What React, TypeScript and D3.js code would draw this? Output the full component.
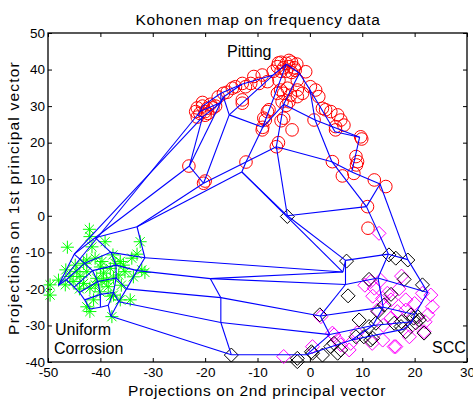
import { useEffect, useRef } from 'react';
import * as d3 from 'd3';

const W = 473;
const H = 403;

const xTicks = [-50, -40, -30, -20, -10, 0, 10, 20, 30];
const yTicks = [-40, -30, -20, -10, 0, 10, 20, 30, 40, 50];

// Kohonen map codebook vectors, 9 rows x 8 columns, [x, y] per unit
const somGrid = [
  [[-20.5, 30], [-17, 33.5], [-13, 36], [-7, 38.5], [-4.5, 41.5], [-2, 39], [0, 34.5], [4.8, 23]],
  [[-21, 28.5], [-17, 31], [-16.5, 32.5], [-15.4, 27.6], [-9, 24.2], [-5, 30.5], [1, 26.2], [9.5, 21.5]],
  [[-21.5, 27.5], [-20.5, 27], [-23, 13.6], [-20.3, 8.9], [-12.2, 14.7], [-6.4, 18.9], [4.2, 14.8], [8, 12]],
  [[-48, -19], [-45, -10.5], [-41, -6], [-33, -3], [-13, 12], [-4.3, 0], [10.8, 2.5], [13.4, 8.7]],
  [[-46.5, -17.5], [-43, -13], [-38, -10], [-31.5, -11.5], [6.3, -15.4], [6.8, -12.2], [15, -10.5], [18.7, -12]],
  [[-45, -19.5], [-41.5, -15], [-37, -13.5], [-33, -15], [-19, -17.2], [6.8, -18.8], [13, -17], [22.5, -21]],
  [[-44, -21], [-40.5, -18], [-37, -17], [-35, -20], [-17, -22.4], [2, -27.4], [14, -25], [20, -27]],
  [[-43, -23], [-40, -21.5], [-37.5, -21], [-36.5, -23.5], [-17, -29.2], [3.8, -32.5], [12, -30], [19.5, -29]],
  [[-42, -25.5], [-40, -25], [-38.5, -24.5], [-38, -27.5], [-15, -38], [-0.6, -38], [8, -34], [18, -31]],
];

const pitting = [
  [-4.5, 41.7], [-5.5, 42], [-3.5, 42], [-4, 40.8], [-5, 40.5], [-3, 40.5], [-6.2, 40.8], [-4.5, 39.5],
  [-2.5, 41.5], [-5.5, 39.5], [-3.5, 39.2], [-4, 42.5], [-6, 41.8], [-2.8, 39.8], [-0.8, 39.4], [-2.4, 37.1],
  [-5.9, 37.1], [-7, 39.5], [-10.7, 38.1], [-9.1, 38.5], [-8.1, 36.7], [-11.3, 36.2], [-12.9, 36.2], [-14.2, 35.3],
  [-14.8, 34.9], [-12.3, 35.3], [-9.7, 36.2], [-12.9, 31.7], [-12.9, 30.8], [-16.5, 33.5], [-17.5, 32.5], [-15.8, 33.8],
  [-19.6, 29.4], [-20.5, 30], [-21.5, 29.5], [-19, 30.5], [-20, 28.5], [-21, 28], [-18.5, 29.5], [-20.5, 31],
  [-21.8, 28.5], [-19.5, 28], [-18, 30], [-20, 27.5], [-21.5, 27], [-23.1, 13.6], [-20.3, 8.9], [-20, 9.5],
  [-8.1, 28.5], [-7.8, 29], [-8.5, 26.2], [-9.1, 23.5], [-8.8, 26.7], [-5, 26.7], [-5.5, 26], [-3.4, 23.5],
  [-5.3, 31.2], [-4, 31.2], [-4.5, 30.2], [-4.3, 34.9], [-3.7, 33], [-2.4, 32.6], [-1.4, 33.5], [-2.4, 34.4],
  [-5.6, 34.4], [-5, 33.5], [-6.2, 33.5], [-12.2, 14.7], [-6.4, 18.9], [-6, 20], [-9, 24.2], [0.1, 35.3],
  [1.1, 34.4], [1.7, 32.6], [2.4, 29.4], [3, 29], [4, 28.5], [5.3, 27.6], [5.9, 26.2], [4.9, 24.4],
  [6.5, 24.8], [0.8, 26.2], [4.9, 23.5], [9.7, 21.6], [9.9, 21], [8.8, 16.2], [9.1, 14.8], [8.9, 13.9],
  [8.4, 11.6], [6.2, 10.9], [4.3, 14.8], [12.3, 9.8], [14.5, 8], [11, 2.5], [11.1, -3.4],
];

const uniform = [
  [-42.1, -3.7], [-42, -5.7], [-41.6, -8.5], [-46.3, -8.6], [-39.1, -7.1], [-37.6, -10.7], [-37.2, -13], [-35.6, -13.5],
  [-34, -11.6], [-32.1, -14.8], [-33.7, -16.7], [-32.4, -7.1], [-46.6, -14.8], [-48, -17.6], [-49.6, -18.9], [-49.6, -21.7],
  [-46.7, -18.9], [-45.2, -18], [-43.9, -16.6], [-42.6, -15.3], [-43.2, -18.5], [-42, -19.8], [-40.7, -17.1], [-39.4, -15.7],
  [-38.1, -14.4], [-36.5, -16.2], [-35.3, -15.3], [-40.1, -20.8], [-38.5, -19.4], [-37.5, -21.7], [-36.2, -23], [-34.3, -23],
  [-41.3, -23], [-42.6, -24.9], [-42, -26.2], [-37.8, -27.6], [-43.2, -13], [-44.8, -13.5], [-39.7, -12.5], [-41, -11.6],
  [-42.6, -12.1], [-44.5, -15.3], [-45.8, -16.6], [-41, -18.9], [-39.7, -18], [-38.8, -17.6], [-36.2, -12.5], [-37.5, -17],
  [-36, -19], [-40, -14], [-38, -22], [-44, -20], [-33, -10.5], [-31.5, -15.5],
];

const sccBlack = [
  [-4.3, -0.2], [7, -12.4], [15.1, -10.7], [16.4, -11.6], [18.7, -12.1], [18, -17.4], [21.5, -18.9], [11.3, -17.4],
  [7.3, -21.9], [1.9, -27.1], [9.4, -28.5], [11.3, -30.3], [13, -26.2], [16.1, -29.4], [17.4, -30.3], [19.3, -27.1],
  [20.6, -27.6], [20.9, -28.5], [21.8, -32.1], [18.3, -31.7], [10.3, -33.1], [11.6, -34], [8.8, -33.1], [4.6, -34.9],
  [5.3, -37.6], [4, -35.8], [0.3, -37.2], [2.4, -38.1], [-2.4, -39.9], [14.2, -24.4], [12.6, -29.4], [-15, -38.1],
  [-2.4, -39], [0.5, -37.6], [5.9, -36.7], [19.8, -28], [20.2, -29.3], [17.5, -29], [15.5, -21.5], [12, -33.5],
];

const sccMagenta = [
  [13.2, -4.8], [11.6, -18], [13.5, -17.6], [12.3, -19.8], [14.8, -21.2], [15.5, -23], [13.9, -22.6], [18.3, -23],
  [23.1, -21.7], [23.4, -24.9], [22.5, -27.1], [18.3, -25.8], [16.7, -26.2], [19.3, -30.3], [19, -33.1], [16.4, -35.8],
  [13.9, -34], [11.9, -34.9], [5.3, -34], [4.3, -32.1], [7.8, -34.9], [2.1, -27.6], [12.9, -25.8], [15.5, -28],
  [21.5, -21.2], [-5, -38.5], [0.5, -35.8], [5.9, -35.3], [7.5, -36.7], [16.1, -35.8], [21.8, -31.7], [4.6, -32.6],
  [10.5, -19], [17, -20], [20, -24], [14, -30], [9, -32], [22, -29], [17.5, -16.5], [12, -22],
];

const FONT = "'Liberation Sans', Arial, sans-serif";

const App = () => {
  const svgRef = useRef<SVGSVGElement>(null);

  useEffect(() => {
    const left = 48, right = 467, top = 33, bottom = 362;
    const x = d3.scaleLinear().domain([-50, 30]).range([left, right]);
    const y = d3.scaleLinear().domain([-40, 50]).range([bottom, top]);

    const svg = d3.select(svgRef.current);
    svg.selectAll('*').remove();
    svg.append('rect').attr('width', W).attr('height', H).attr('fill', '#fff');

    // axes, MATLAB style with inward ticks on every side
    const fmt = (d: any) => String(d);
    const styleAxis = (g: any) => {
      g.select('.domain').remove();
      g.selectAll('line').attr('stroke', '#000');
      g.selectAll('text').attr('font-family', FONT).attr('font-size', 13.5).attr('fill', '#000');
    };
    svg.append('g').attr('transform', `translate(0,${bottom})`)
      .call(d3.axisBottom(x).tickValues(xTicks).tickSizeInner(-4).tickSizeOuter(0).tickPadding(5).tickFormat(fmt))
      .call(styleAxis);
    svg.append('g').attr('transform', `translate(0,${top})`)
      .call(d3.axisTop(x).tickValues(xTicks).tickSizeInner(-4).tickSizeOuter(0).tickFormat(() => ''))
      .call(styleAxis);
    svg.append('g').attr('transform', `translate(${left},0)`)
      .call(d3.axisLeft(y).tickValues(yTicks).tickSizeInner(-4).tickSizeOuter(0).tickPadding(3).tickFormat(fmt))
      .call(styleAxis);
    svg.append('g').attr('transform', `translate(${right},0)`)
      .call(d3.axisRight(y).tickValues(yTicks).tickSizeInner(-4).tickSizeOuter(0).tickFormat(() => ''))
      .call(styleAxis);
    svg.append('rect')
      .attr('x', left).attr('y', top).attr('width', right - left).attr('height', bottom - top)
      .attr('fill', 'none').attr('stroke', '#000').attr('stroke-width', 1.3);

    // data markers
    const plot = svg.append('g');
    plot.selectAll('.uni').data(uniform).enter().append('path')
      .attr('d', d => {
        const cx = x(d[0]), cy = y(d[1]), r = 6.5, q = 4.6;
        return `M${cx - r},${cy}L${cx + r},${cy}M${cx},${cy - r}L${cx},${cy + r}` +
          `M${cx - q},${cy - q}L${cx + q},${cy + q}M${cx - q},${cy + q}L${cx + q},${cy - q}`;
      })
      .attr('stroke', '#00ff00').attr('fill', 'none');

    plot.selectAll('.pit').data(pitting).enter().append('circle')
      .attr('cx', d => x(d[0])).attr('cy', d => y(d[1])).attr('r', 6.3)
      .attr('fill', 'none').attr('stroke', '#ff0000');

    const diamond = (d: number[]) => {
      const cx = x(d[0]), cy = y(d[1]), s = 7;
      return `M${cx},${cy - s}L${cx + s},${cy}L${cx},${cy + s}L${cx - s},${cy}Z`;
    };
    plot.selectAll('.mag').data(sccMagenta).enter().append('path')
      .attr('d', diamond).attr('fill', 'none').attr('stroke', '#ff00ff');
    plot.selectAll('.blk').data(sccBlack).enter().append('path')
      .attr('d', diamond).attr('fill', 'none').attr('stroke', '#000');

    // SOM grid: connect each unit to its right and lower neighbour
    const segs: number[][][] = [];
    somGrid.forEach((row, r) => row.forEach((p, c) => {
      if (c + 1 < row.length) segs.push([p, row[c + 1]]);
      if (r + 1 < somGrid.length) segs.push([p, somGrid[r + 1][c]]);
    }));
    const line = d3.line<number[]>().x(d => x(d[0])).y(d => y(d[1]));
    plot.selectAll('.seg').data(segs).enter().append('path')
      .attr('d', d => line(d))
      .attr('fill', 'none').attr('stroke', '#0000ff').attr('stroke-width', 1.1);

    return () => { svg.selectAll('*').remove(); };
  }, []);

  return (
    <div style={{ position: 'fixed', left: 0, top: 0 }}>
      <svg ref={svgRef} width={W} height={H} style={{ display: 'block' }} />
      <svg width={W} height={H} style={{ position: 'absolute', left: 0, top: 0 }} fontFamily={FONT}>
        <text x={258} y={25} textAnchor="middle" fontSize={15.5} letterSpacing={0.7}>Kohonen map on frequency data</text>
        <text x={257} y={396} textAnchor="middle" fontSize={15.5} letterSpacing={0.6}>Projections on 2nd principal vector</text>
        <text transform="translate(19,198) rotate(-90)" textAnchor="middle" fontSize={15.5} letterSpacing={1.2}>Projections on 1st principal vector</text>
        <text x={227} y={57} fontSize={16}>Pitting</text>
        <text x={55} y={335} fontSize={16}>Uniform</text>
        <text x={54} y={354} fontSize={16}>Corrosion</text>
        <text x={432} y={353} fontSize={16}>SCC</text>
      </svg>
    </div>
  );
};

export default App;
